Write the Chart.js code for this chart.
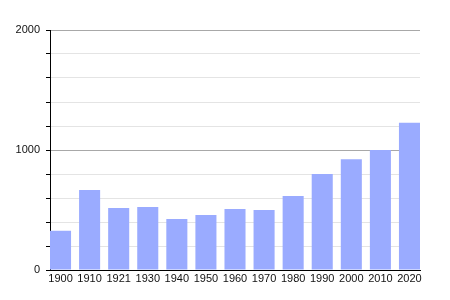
<!DOCTYPE html>
<html>
<head>
<meta charset="utf-8">
<script src="https://cdn.jsdelivr.net/npm/chart.js@4/dist/chart.umd.min.js"></script>
<style>
html,body{margin:0;padding:0;background:#fff}
#wrap{width:450px;height:300px;position:relative}
</style>
</head>
<body>
<div id="wrap"><canvas id="c"></canvas></div>
<script>
// population by census year
var years=['1900','1910','1921','1930','1940','1950','1960','1970','1980','1990','2000','2010','2020'];
var pop=[327,667,517,525,425,458,508,500,617,800,922,1000,1227];
var yTicks=[0,1000,2000];

var pts=pop.map(function(v,i){return {x:i,y:v}});

Chart.defaults.font.family="'Liberation Sans',Arial,sans-serif";
Chart.defaults.font.size=11;
Chart.defaults.color='#111';

new Chart(document.getElementById('c').getContext('2d'),{
    type:'bar',
    data:{datasets:[{data:pts,backgroundColor:'#9aabff',borderWidth:0,barPercentage:0.724,categoryPercentage:1}]},
    options:{
        responsive:true,maintainAspectRatio:false,animation:false,
        layout:{padding:{top:30,right:30,left:0,bottom:0}},
        plugins:{legend:{display:false},tooltip:{enabled:false}},
        scales:{
            x:{type:'linear',min:-0.362,max:12.362,offset:false,
                grid:{display:false,drawTicks:false,offset:false},border:{display:true,color:'#000',width:1},
                ticks:{stepSize:1,includeBounds:false,autoSkip:false,maxRotation:0,padding:2,color:'#111',
                    callback:function(v){return Number.isInteger(v)?years[v]:''}},
                afterFit:function(s){s.height=30}},
            y:{min:0,max:2000,
                grid:{color:function(c){return c.tick&&yTicks.indexOf(c.tick.value)>=0?'#a8a8a8':'#e4e4e4'},tickColor:'#000',tickLength:4,tickWidth:1},
                border:{display:true,color:'#000',width:1},
                ticks:{stepSize:200,padding:6,color:'#111',
                    callback:function(v){return yTicks.indexOf(v)>=0?String(v):''}},
                afterFit:function(s){s.width=50}}
        }
    }
});
</script>
</body>
</html>
